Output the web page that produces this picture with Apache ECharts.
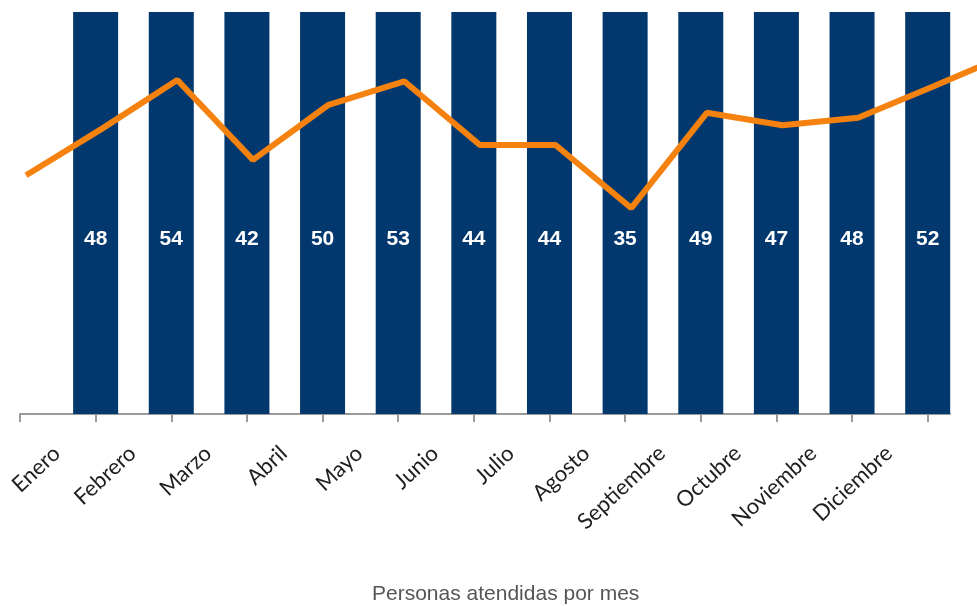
<!DOCTYPE html>
<html>
<head>
<meta charset="utf-8">
<script src="https://cdn.jsdelivr.net/npm/echarts@6/dist/echarts.min.js"></script>
<style>
    html, body { margin: 0; padding: 0; background: #fff; }
    #chart { width: 977px; height: 606px; }
</style>
</head>
<body>
<div id="chart"></div>
<script>
    // meses y personas atendidas
    const months = ['Enero', 'Febrero', 'Marzo', 'Abril', 'Mayo', 'Junio', 'Julio', 'Agosto',
        'Septiembre', 'Octubre', 'Noviembre', 'Diciembre']
    const attended = [48, 54, 42, 50, 53, 44, 44, 35, 49, 47, 48, 52]
    // linea naranja: un punto antes de enero y uno despues de diciembre
    const trend = [38.6, 46.1, 54.0, 41.1, 50.0, 53.8, 43.5, 43.5, 33.3, 48.7, 46.7, 47.9, 53.0, 58.2]
    const tickValues = [0, 1, 2, 3, 4, 5, 6, 7, 8, 9, 10, 11, 12]

    let chart = echarts.init(document.getElementById('chart'))
    chart.setOption({
        animation: false,
        title: {
            text: 'Personas atendidas por mes',
            left: 372,
            top: 584,
            padding: 0,
            textStyle: {
                fontFamily: 'Liberation Sans',
                fontSize: 21,
                fontWeight: 'normal',
                color: '#555'
            }
        },
        grid: [
            // solo para las etiquetas de los meses
            { left: 19, width: 907.7, top: 12, bottom: 192 },
            // barras y eje
            { left: 20, width: 930, top: 12, bottom: 192 },
            // linea, hasta el borde derecho del lienzo
            { left: 20, right: 0, top: 12, bottom: 192 }
        ],
        xAxis: [
            {
                gridIndex: 0,
                type: 'category',
                data: months,
                boundaryGap: true,
                axisLine: { show: false },
                axisTick: { show: false },
                axisLabel: {
                    rotate: 43,
                    margin: 36,
                    fontFamily: 'Lato',
                    fontSize: 22,
                    color: '#1e1e1e'
                }
            },
            {
                gridIndex: 1,
                type: 'value',
                min: 0,
                max: 12.295,
                interval: 1,
                axisLine: { show: true, lineStyle: { color: '#9a9a9a', width: 2 } },
                axisTick: { show: true, length: 8, customValues: tickValues, lineStyle: { color: '#9a9a9a', width: 2 } },
                axisLabel: { show: false },
                splitLine: { show: false }
            },
            {
                gridIndex: 2,
                type: 'value',
                min: -0.08,
                max: 12.572,
                show: false
            }
        ],
        yAxis: [
            { gridIndex: 0, type: 'value', show: false },
            { gridIndex: 1, type: 'value', min: 0, max: 30, show: false },
            { gridIndex: 2, type: 'value', min: 0, max: 65, show: false }
        ],
        series: [
            {
                type: 'bar',
                xAxisIndex: 1,
                yAxisIndex: 1,
                data: attended.map((v, i) => [i + 1, v]),
                barWidth: 45,
                clip: true,
                itemStyle: { color: '#02386e' },
                label: {
                    show: true,
                    position: 'insideBottom',
                    distance: 164,
                    color: '#fff',
                    fontFamily: 'Liberation Sans',
                    fontWeight: 'bold',
                    fontSize: 21,
                    formatter: (p) => p.value[1]
                }
            },
            {
                type: 'line',
                xAxisIndex: 2,
                yAxisIndex: 2,
                data: trend.map((v, i) => [i, v]),
                symbol: 'none',
                clip: true,
                z: 5,
                lineStyle: { color: '#f5820f', width: 6 }
            }
        ]
    })
</script>
</body>
</html>
